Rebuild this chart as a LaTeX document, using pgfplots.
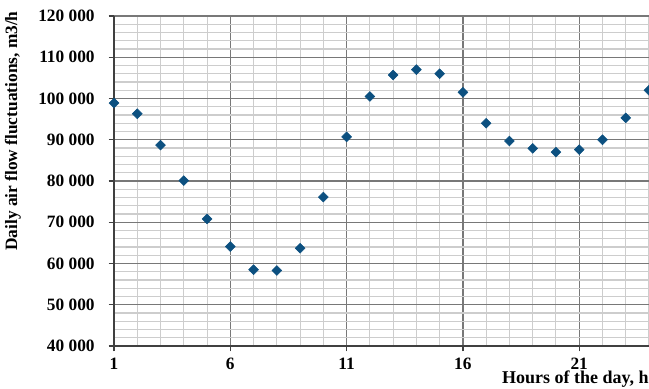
\documentclass[border=0pt]{standalone}
\usepackage{fontspec}
\setmainfont{Liberation Serif}
\usepackage{pgfplots}
\pgfplotsset{compat=1.18}
\definecolor{mk}{RGB}{12,80,128}
\definecolor{majg}{RGB}{120,120,120}
\definecolor{ming}{RGB}{205,205,205}
\begin{document}
\begin{tikzpicture}
\begin{axis}[
  scale only axis,
  width=401.25pt, height=247.5pt,
  xmin=1, xmax=24, ymin=40000, ymax=120000,
  scaled y ticks=false, scaled x ticks=false,
  axis x line*=bottom, axis y line*=left,
  axis line style={black!75, line width=1pt},
  xtick={1,6,11,16,21},
  xticklabels={1,6,11,16,21},
  minor xtick={2,3,...,24},
  ytick={40000,50000,...,120000},
  yticklabels={40 000,50 000,60 000,70 000,80 000,90 000,100 000,110 000,120 000},
  minor ytick={42000,44000,...,118000},
  grid=both,
  major grid style={majg, line width=1pt},
  minor grid style={ming, line width=0.8pt},
  tick align=outside,
  major tick length=4pt,
  minor tick length=0pt,
  tick style={black!75, line width=1pt},
  ticklabel style={font=\bfseries\fontsize{13}{15}\selectfont},
  yticklabel style={xshift=-7pt},
  xticklabel style={inner sep=0pt, yshift=-4.5pt},
  xlabel={Hours of the day, h},
  ylabel={Daily air flow fluctuations, m3/h},
  xlabel style={at={(rel axis cs:1,0)}, anchor=base east, inner sep=0pt, yshift=-28pt, font=\bfseries\fontsize{13.5}{16}\selectfont},
  ylabel style={at={(rel axis cs:-0.1888,0.6515)}, anchor=center, font=\bfseries\fontsize{13}{15}\selectfont},
]
\addplot[only marks, mark=square*, mark size=2.6pt, mark options={rotate=45, fill=mk, draw=mk}] coordinates {
(1,98900) (2,96300) (3,88700) (4,80100) (5,70800) (6,64100) (7,58500) (8,58300)
(9,63700) (10,76100) (11,90700) (12,100500) (13,105700) (14,107000) (15,106000)
(16,101500) (17,94000) (18,89700) (19,87900) (20,87000) (21,87600) (22,90000)
(23,95300) (24,102000)
};
\coordinate (bl) at (rel axis cs:-0.2131,-0.1273);
\coordinate (tr) at (rel axis cs:1,1.0485);
\end{axis}
\pgfresetboundingbox
\path[use as bounding box] (bl) rectangle (tr);
\end{tikzpicture}
\end{document}
